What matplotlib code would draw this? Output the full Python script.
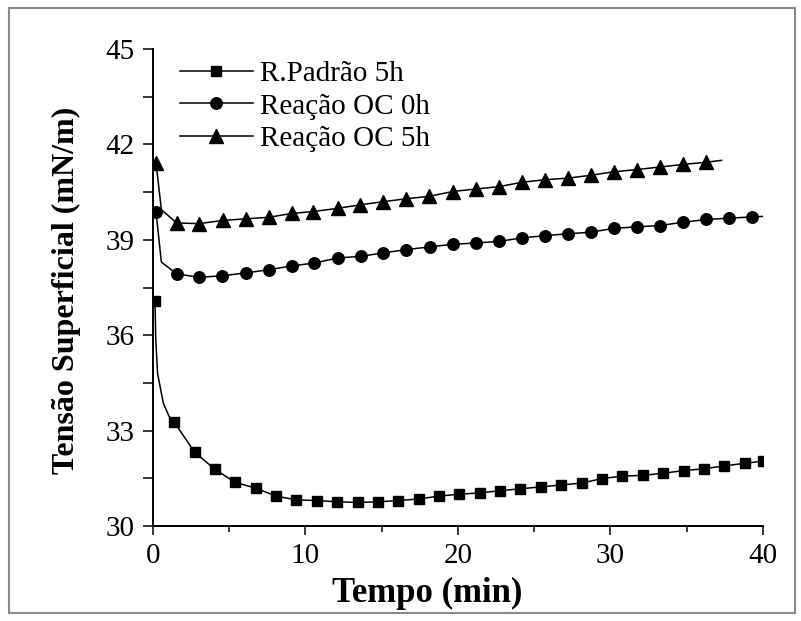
import matplotlib
matplotlib.use("Agg")
import matplotlib.pyplot as plt
from matplotlib.patches import Rectangle
from matplotlib.ticker import MultipleLocator

plt.rcParams['font.family'] = ['Liberation Serif', 'DejaVu Serif']

### dados

# R.Padrão 5h
padrao_t = [0.13, 0.18, 0.30, 0.68, 1.05, 1.40, 2.73, 4.07, 5.40, 6.74, 8.07,
            9.41, 10.75, 12.08, 13.42, 14.75, 16.09, 17.42, 18.76, 20.10,
            21.43, 22.77, 24.10, 25.44, 26.77, 28.11, 29.44, 30.78, 32.12,
            33.45, 34.79, 36.12, 37.46, 38.79, 40.0]
padrao_y = [37.08, 35.9, 34.8, 33.86, 33.45, 33.26, 32.32, 31.78, 31.37, 31.19,
            30.94, 30.82, 30.80, 30.76, 30.74, 30.76, 30.80, 30.85, 30.94,
            31.00, 31.04, 31.11, 31.17, 31.23, 31.29, 31.35, 31.49, 31.57,
            31.59, 31.66, 31.74, 31.80, 31.89, 31.97, 32.04]
padrao_marks = [0] + list(range(5, len(padrao_t)))

# Reação OC 0h
oc0_t = [0.2, 0.55, 1.55, 3.04, 4.54, 6.08, 7.61, 9.09, 10.58, 12.11, 13.62,
         15.10, 16.59, 18.16, 19.66, 21.18, 22.67, 24.18, 25.70, 27.19, 28.70,
         30.21, 31.74, 33.23, 34.73, 36.26, 37.77, 39.28, 40.1]
oc0_y = [39.87, 38.3, 37.93, 37.82, 37.87, 37.96, 38.06, 38.18, 38.27, 38.43,
         38.48, 38.59, 38.69, 38.78, 38.86, 38.90, 38.95, 39.06, 39.13, 39.19,
         39.24, 39.36, 39.41, 39.45, 39.55, 39.64, 39.68, 39.72, 39.74]
oc0_marks = [0] + list(range(2, len(oc0_t) - 1))

# Reação OC 5h
oc5_t = [0.2, 0.55, 1.55, 3.04, 4.57, 6.10, 7.62, 9.09, 10.51, 12.11, 13.57,
         15.10, 16.59, 18.12, 19.66, 21.18, 22.67, 24.18, 25.70, 27.19, 28.70,
         30.21, 31.74, 33.23, 34.73, 36.26, 37.29]
oc5_y = [41.41, 39.95, 39.53, 39.51, 39.61, 39.66, 39.71, 39.83, 39.89, 39.99,
         40.10, 40.20, 40.29, 40.37, 40.52, 40.60, 40.67, 40.81, 40.89, 40.94,
         41.03, 41.14, 41.21, 41.29, 41.37, 41.44, 41.50]
oc5_marks = [0] + list(range(2, len(oc5_t) - 1))

### gráfico

fig = plt.figure(figsize=(8.01, 6.21), dpi=100)
ax = fig.add_axes([0.191, 0.153, 0.7615, 0.768])

ax.plot(padrao_t, padrao_y, 'k-', marker='s', ms=7.8, lw=1.1,
        markevery=padrao_marks, label="R.Padrão 5h")
ax.plot(oc0_t, oc0_y, 'k-', marker='o', ms=8.3, lw=1.1,
        markevery=oc0_marks, label="Reação OC 0h")
ax.plot(oc5_t, oc5_y, 'k-', marker='^', ms=9.5, lw=1.1,
        markevery=oc5_marks, label="Reação OC 5h")

ax.set_xlim(0, 40)
ax.set_ylim(30, 45)
ax.xaxis.set_major_locator(MultipleLocator(10))
ax.xaxis.set_minor_locator(MultipleLocator(5))
ax.yaxis.set_major_locator(MultipleLocator(3))
ax.yaxis.set_minor_locator(MultipleLocator(1.5))

for s in ['top', 'right']:
    ax.spines[s].set_visible(False)
for s in ['left', 'bottom']:
    ax.spines[s].set_linewidth(1.4)

ax.tick_params(axis='x', which='major', direction='out', length=6.5, width=1.1,
               labelsize=21, pad=6)
ax.tick_params(axis='x', which='minor', direction='out', length=4.5, width=1.1)
ax.tick_params(axis='y', which='both', direction='out', length=7.5, width=1.1,
               labelsize=21, pad=6)

ax.set_xlabel("Tempo (min)", fontsize=25, fontweight='bold')
ax.set_ylabel("Tensão Superficial (mN/m)", fontsize=23, fontweight='bold')
ax.xaxis.set_label_coords(0.449, -0.106)
ax.yaxis.set_label_coords(-0.118, 0.493)

ax.legend(loc='upper left', bbox_to_anchor=(0.044, 0.975), frameon=False,
          fontsize=21, handlelength=2.5, handletextpad=0.25, labelspacing=0.2,
          borderpad=0, borderaxespad=0)

# moldura cinza em volta da figura
fig.patches.append(Rectangle((0.011, 0.013), 0.982, 0.974, transform=fig.transFigure,
                             fill=False, edgecolor='#8a8a8a', lw=1.5))

fig.savefig("out.png", dpi=100)
